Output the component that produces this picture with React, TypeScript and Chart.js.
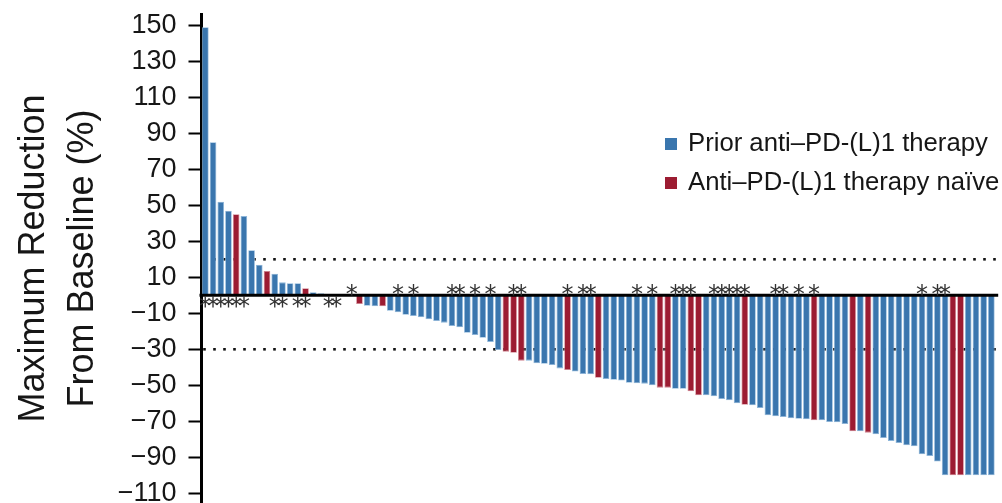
import React, { useEffect, useRef } from 'react';
import { Chart, registerables } from 'chart.js';

Chart.register(...registerables);

// ---- data ----
const patients: string[] = [
  '1','2','3','4','5','6','7','8','9','10','11','12','13','14','15','16','17','18','19','20',
  '21','22','23','24','25','26','27','28','29','30','31','32','33','34','35','36','37','38','39','40',
  '41','42','43','44','45','46','47','48','49','50','51','52','53','54','55','56','57','58','59','60',
  '61','62','63','64','65','66','67','68','69','70','71','72','73','74','75','76','77','78','79','80',
  '81','82','83','84','85','86','87','88','89','90','91','92','93','94','95','96','97','98','99','100',
  '101','102','103',
];

const reduction: number[] = [
  149, 85, 52, 47, 45, 44, 25, 17, 13.5, 12, 7.2, 6.7, 6.7, 3.9, 1.7, 1.1, 0.2, 0.2, 0, -0.2,
  -4.8, -5.8, -6.1, -6.1, -8.6, -9.4, -10.8, -11.5, -12.2, -13.3, -14.3, -15.2, -17.1, -17.8, -20.8, -22.1, -23.6, -25.9, -30.4, -31.3,
  -31.9, -36.3, -36.3, -37.8, -38, -38.7, -40.6, -41.5, -42.4, -43.7, -43.9, -45.8, -46.5, -46.9, -47.3, -48.6, -48.9, -49.1, -50, -51.3,
  -51.3, -51.9, -51.9, -53.3, -55.6, -55.6, -56.1, -57.6, -58.3, -60, -60.8, -61.1, -62.6, -66.7, -67.2, -67.6, -68.3, -68.6, -68.9, -69.4,
  -69.4, -70.4, -70.6, -71.5, -75.6, -75.6, -76.3, -77.2, -79.3, -80.9, -82.1, -83.3, -83.9, -88.3, -89.3, -92.4, -100, -100, -100, -100,
  -100, -100, -100,
];

// P = prior anti-PD-(L)1 therapy, N = anti-PD-(L)1 therapy naive
const cohort: string[] = [
  'P','P','P','P','N','P','P','P','N','P','P','P','P','N','P','P','P','P','P','P',
  'N','P','P','N','P','P','P','P','P','P','P','P','P','P','P','P','P','P','P','N',
  'N','N','P','P','P','P','P','N','P','P','P','N','P','P','P','P','P','P','P','N',
  'N','P','P','N','N','P','P','P','P','P','N','P','P','P','P','P','P','P','P','N',
  'P','P','P','P','N','P','N','P','P','P','P','P','P','P','P','P','P','N','N','P',
  'P','P','P',
];

// 1 = marked with an asterisk
const asterisk: number[] = [
  1,1,1,1,1,1,0,0,0,1,1,0,1,1,0,0,1,1,0,1,
  0,0,0,0,0,1,0,1,0,0,0,0,1,1,0,1,0,1,0,0,
  1,1,0,0,0,0,0,1,0,1,1,0,0,0,0,0,1,0,1,0,
  0,1,1,1,0,0,1,1,1,1,1,0,0,0,1,1,0,1,0,1,
  0,0,0,0,0,0,0,0,0,0,0,0,0,1,0,1,1,0,0,0,
  0,0,0,
];

const yTicks: number[] = [150, 130, 110, 90, 70, 50, 30, 10, -10, -30, -50, -70, -90, -110];
const referenceLines: number[] = [20, -30];
const seriesNames: string[] = ['Prior anti\u2013PD-(L)1 therapy', 'Anti\u2013PD-(L)1 therapy na\u00efve'];
const seriesCodes: string[] = ['P', 'N'];
const axisTitle: string[] = ['Maximum Reduction', 'From Baseline (%)'];

// ---- styles ----
const FONT = "'Liberation Sans', Arial, Helvetica, sans-serif";
const fillColors = ['#3a76ae', '#9c1c32'];
const edgeColors = ['#8db6da', '#cf8490'];
const TEXT = '#161616';

const overlayPlugin = {
  id: 'overlay',
  beforeDatasetsDraw(chart: any) {
    const { ctx, chartArea, scales } = chart;
    ctx.save();
    ctx.fillStyle = '#111';
    referenceLines.forEach((v) => {
      const y = scales.y.getPixelForValue(v);
      for (let x = chartArea.left + 3; x < chartArea.right; x += 10) {
        ctx.fillRect(x - 1.3, y - 1.3, 2.6, 2.6);
      }
    });
    ctx.restore();
  },
  afterDatasetsDraw(chart: any) {
    const { ctx, chartArea, scales } = chart;
    const y0 = scales.y.getPixelForValue(0);
    ctx.save();
    // zero line
    ctx.strokeStyle = '#000';
    ctx.lineWidth = 3;
    ctx.beginPath();
    ctx.moveTo(chartArea.left - 2, y0);
    ctx.lineTo(chartArea.right + 3, y0);
    ctx.stroke();

    // asterisks
    ctx.font = `24px 'DejaVu Sans', ${FONT}`;
    ctx.fillStyle = '#333';
    ctx.textAlign = 'center';
    ctx.textBaseline = 'alphabetic';
    const m = ctx.measureText('*');
    const shift = (m.actualBoundingBoxAscent - m.actualBoundingBoxDescent) / 2;
    reduction.forEach((v, i) => {
      if (!asterisk[i]) return;
      const x = scales.x.getPixelForValue(i);
      const cy = v > 0 ? y0 + 6.5 : y0 - 5;
      ctx.fillText('*', x, cy + shift);
    });

    // legend
    ctx.font = `25.7px ${FONT}`;
    ctx.textAlign = 'left';
    ctx.textBaseline = 'middle';
    seriesNames.forEach((name, k) => {
      const cy = 143 + k * 39;
      ctx.fillStyle = fillColors[k];
      ctx.fillRect(665, cy - 5, 12, 12);
      ctx.fillStyle = TEXT;
      ctx.fillText(name, 688, cy + 1);
    });
    ctx.restore();
  },
};

export default function App() {
  const canvasRef = useRef<HTMLCanvasElement | null>(null);

  useEffect(() => {
    document.body.style.margin = '0';
    const canvas = canvasRef.current;
    if (!canvas) return;

    const datasets = seriesCodes.map((code, k) => ({
      label: seriesNames[k],
      data: reduction.map((v, i) => (cohort[i] === code ? v : null)),
      backgroundColor: fillColors[k],
      borderColor: edgeColors[k],
      borderWidth: 0.8,
      borderSkipped: 'start' as const,
      barPercentage: 0.86,
      categoryPercentage: 1,
    }));

    const chart = new Chart(canvas, {
      type: 'bar',
      data: { labels: patients, datasets },
      options: {
        responsive: false,
        animation: false,
        devicePixelRatio: 1,
        layout: { padding: { left: 0, right: 6.8, top: 14, bottom: 0 } },
        plugins: {
          legend: { display: false },
          tooltip: { enabled: false },
        },
        scales: {
          x: {
            display: false,
            stacked: true,
            offset: true,
            grid: { display: false },
          },
          y: {
            min: -115.4,
            max: 156.3,
            afterFit: (s: any) => {
              s.width = 201.5;
              s.paddingTop = 0;
              s.paddingBottom = 0;
            },
            afterBuildTicks: (s: any) => {
              s.ticks = yTicks.map((v) => ({ value: v }));
            },
            ticks: {
              autoSkip: false,
              padding: 12,
              color: TEXT,
              font: { family: FONT, size: 27 },
              callback: (v: any) => (Number(v) < 0 ? '\u2212' + Math.abs(Number(v)) : String(v)),
            },
            grid: {
              drawOnChartArea: false,
              drawTicks: true,
              tickLength: 13,
              tickWidth: 2,
              tickColor: '#000',
            },
            border: { display: true, color: '#000', width: 3 },
            title: {
              display: true,
              text: axisTitle,
              color: TEXT,
              font: { family: FONT, size: 36, lineHeight: 1.36 },
              padding: { top: 10, bottom: 0 },
            },
          },
        },
      },
      plugins: [overlayPlugin],
    });

    return () => chart.destroy();
  }, []);

  return (
    <div style={{ width: 1002, height: 503, position: 'relative' }}>
      <canvas ref={canvasRef} width={1002} height={503} style={{ display: 'block' }} />
    </div>
  );
}
